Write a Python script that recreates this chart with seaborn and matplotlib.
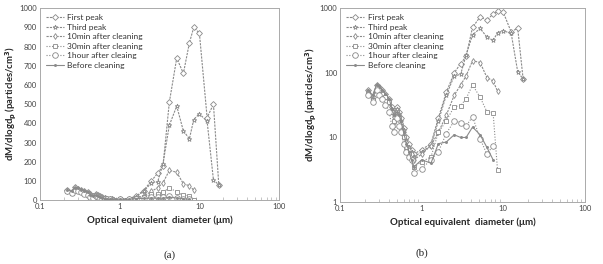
import numpy as np
import pandas as pd
import matplotlib
matplotlib.use("Agg")
import matplotlib.pyplot as plt
import seaborn as sns

# optical diameter channels (um)
diam = [0.22, 0.25, 0.28, 0.30, 0.33, 0.36, 0.40, 0.43, 0.46, 0.50, 0.53, 0.56,
        0.60, 0.65, 0.70, 0.75, 0.80, 1.0, 1.3, 1.6, 2.0, 2.5, 3.0, 3.5, 4.2,
        5.2, 6.3, 7.5, 8.5, 10.0, 12.5, 15.0, 17.5]

first_peak = [55, 42, 66, 60, 55, 47, 40, 30, 24, 30, 25, 20, 14, 10, 8, 6.5, 5.5,
              6.5, 8, 20, 50, 100, 140, 180, 510, 740, 660, 820, 900, 870, 430, 500, 80]
third_peak = [52, 40, 64, 58, 52, 45, 38, 28, 22, 28, 23, 18, 13, 9, 7, 6, 5,
              6, 7.5, 18, 45, 90, 95, 190, 390, 490, 360, 320, 420, 450, 410, 105, 80]
after_10min = [50, 40, 62, 57, 50, 44, 36, 27, 21, 27, 22, 17, 12, 8.5, 6.5, 5.5, 4.5,
               5.5, 7.5, 12, 22, 45, 65, 90, 155, 145, 85, 75, 52]
after_30min = [48, 38, 60, 55, 48, 42, 35, 25, 18, 25, 20, 15, 10, 7, 5.5, 4.5, 3.5,
               4.2, 5, 12, 18, 30, 31, 40, 65, 42, 25, 24, 3.1]
after_1hour = [46, 36, 55, 45, 40, 32, 25, 15, 12, 20, 15, 12, 8, 6, 5, 4.5, 2.8,
               3.3, 4.5, 6, 11.5, 18, 17, 15, 21, 9.5, 5.5, 7.5]
before = [55, 45, 65, 62, 55, 48, 40, 28, 22, 25, 22, 18, 12, 8, 6, 4.5, 3.5,
          4.5, 4, 8, 8.5, 11, 10, 10, 14.5, 11, 7, 4.5]

series = [
    ("First peak", first_peak, "D", (0, (2, 1)), 3.0),
    ("Third peak", third_peak, "*", (0, (2, 1)), 3.5),
    ("10min after cleaning", after_10min, "d", (0, (2, 1)), 3.0),
    ("30min after cleaning", after_30min, "s", (0, (1, 1.5)), 3.5),
    ("1hour after cleaing", after_1hour, "o", (0, (1, 1.5)), 4.0),
    ("Before cleaning", before, ".", "-", 3.0),
]

sns.set_style("white")
plt.rcParams["font.family"] = ["Lato", "DejaVu Sans"]

fig = plt.figure(figsize=(6.03, 2.64), dpi=100)
ax_a = fig.add_axes([0.066, 0.242, 0.397, 0.727])
ax_b = fig.add_axes([0.564, 0.235, 0.406, 0.733])

line_col = "#8a8a8a"
for ax in (ax_a, ax_b):
    for name, vals, mk, ls, ms in series:
        df = pd.DataFrame({"d": diam[:len(vals)], "v": vals})
        sns.lineplot(data=df, x="d", y="v", ax=ax, label=name, color=line_col,
                     linestyle=ls, linewidth=0.8, marker=mk, markersize=ms,
                     markerfacecolor="white" if mk != "." else line_col,
                     markeredgecolor=line_col, markeredgewidth=0.6)
    ax.set_xscale("log")
    ax.set_xlim(0.1, 100)
    ax.set_xticks([0.1, 1, 10, 100])
    ax.set_xticklabels(["0.1", "1", "10", "100"])
    ax.tick_params(axis="both", labelsize=5.5, colors="#444444", length=0, pad=2)
    ax.tick_params(axis="x", which="minor", length=2, direction="in", color="#bbbbbb", bottom=True)
    for sp in ax.spines.values():
        sp.set_color("#aaaaaa")
        sp.set_linewidth(0.7)
    ax.set_xlabel("Optical equivalent  diameter (μm)", fontsize=7, fontweight="bold", labelpad=4)
    ax.set_ylabel("dM/dlogd$_\\mathbf{p}$ (particles/cm$^\\mathbf{3}$)", fontsize=6.8,
                  fontweight="bold", labelpad=1)
    ax.legend(loc="upper left", frameon=False, fontsize=6, handlelength=2.2,
              labelspacing=0.3, borderaxespad=0.3, handletextpad=0.4,
              labelcolor="#333333")

ax_a.set_ylim(0, 1000)
ax_a.set_yticks(np.arange(0, 1001, 100))
ax_b.set_yscale("log")
ax_b.set_ylim(1, 1000)
ax_b.set_yticks([1, 10, 100, 1000])
ax_b.set_yticklabels(["1", "10", "100", "1000"])
ax_b.tick_params(axis="y", which="minor", length=0)

fig.text(0.282, 0.025, "(a)", ha="center", fontsize=8, family="Liberation Serif")
fig.text(0.70, 0.03, "(b)", ha="center", fontsize=8, family="Liberation Serif")

fig.savefig("out.png", dpi=100)
